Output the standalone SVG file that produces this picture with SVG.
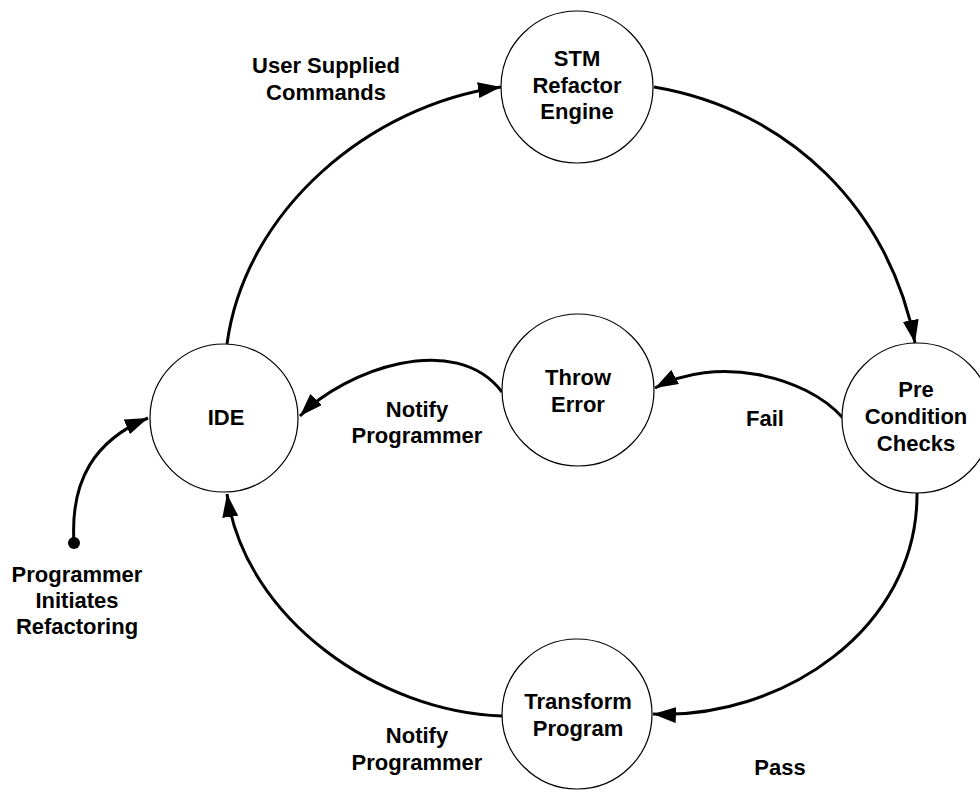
<svg xmlns="http://www.w3.org/2000/svg" width="980" height="792" viewBox="0 0 980 792">
<style>
.node{fill:#fff;stroke:#000;stroke-width:1.2}
text{font-family:"Liberation Sans",Arial,sans-serif;font-weight:bold;font-size:22px;fill:#000;text-anchor:middle}
.edge{fill:none;stroke:#000;stroke-width:3;marker-end:url(#arr)}
</style>
<defs>
<marker id="arr" markerUnits="userSpaceOnUse" markerWidth="24" markerHeight="16" refX="23" refY="8" orient="auto">
<path d="M0,0 L23,8 L0,16 z" fill="#000"/>
</marker>
</defs>
<rect width="980" height="792" fill="#fff"/>
<g id="connectors">
<path class="edge" d="M227,344 C245,210 370,105 501,87"/>
<path class="edge" d="M654,87 C790,110 890,210 915,343"/>
<path class="edge" d="M843,418 C805,375 715,355 655,388"/>
<path class="edge" d="M502,392 C455,330 345,370 300,416"/>
<path class="edge" d="M917,493 C918,630 780,720 653,714"/>
<path class="edge" d="M502,716 C380,712 245,620 227,494"/>
<path class="edge" d="M74,543 C70,480 95,440 148,418"/>
<circle cx="74" cy="543" r="6" fill="#000"/>
</g>
<g id="labels">
<text x="326" y="73">User Supplied</text>
<text x="326" y="100">Commands</text>
<text x="417" y="417">Notify</text>
<text x="417" y="443">Programmer</text>
<text x="765" y="426">Fail</text>
<text x="417" y="743">Notify</text>
<text x="417" y="770">Programmer</text>
<text x="780" y="775">Pass</text>
<text x="77" y="582">Programmer</text>
<text x="77" y="608">Initiates</text>
<text x="77" y="634">Refactoring</text>
</g>
<g id="stm">
<circle class="node" cx="577" cy="87" r="76"/>
<text x="577" y="66">STM</text>
<text x="577" y="93">Refactor</text>
<text x="577" y="119">Engine</text>
</g>
<g id="ide">
<circle class="node" cx="224" cy="418" r="74"/>
<text x="226" y="425">IDE</text>
</g>
<g id="throw">
<circle class="node" cx="578" cy="390" r="76"/>
<text x="578" y="385">Throw</text>
<text x="578" y="412">Error</text>
</g>
<g id="pre">
<circle class="node" cx="917" cy="418" r="75"/>
<text x="916" y="397">Pre</text>
<text x="916" y="424">Condition</text>
<text x="916" y="451">Checks</text>
</g>
<g id="transform">
<circle class="node" cx="577" cy="714" r="75"/>
<text x="578" y="709">Transform</text>
<text x="578" y="736">Program</text>
</g>
</svg>
